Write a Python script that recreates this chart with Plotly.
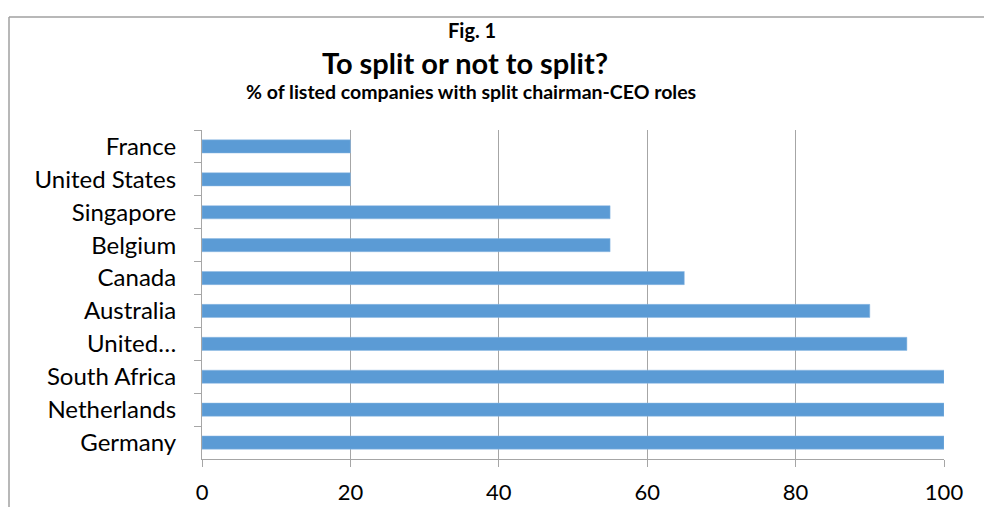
import plotly.graph_objects as go

countries = ["France", "United States", "Singapore", "Belgium", "Canada",
             "Australia", "United…", "South Africa", "Netherlands", "Germany"]
values = [20, 20, 55, 55, 65, 90, 95, 100, 100, 100]
x_ticks = [0, 20, 40, 60, 80, 100]

fig = go.Figure(go.Bar(
    x=values, y=countries, orientation="h",
    marker=dict(color="#5B9BD5", line=dict(color="#8DB8E2", width=0.5)),
    hoverinfo="x+y",
))

L, R, T, B = 202, 40, 130, 48
W, H = 984, 507
pw, ph = W - L - R, H - T - B

def px(x):
    return (x - L) / pw

def py(y):
    return (H - B - y) / ph

fig.update_layout(
    width=W, height=H,
    margin=dict(l=L, r=R, t=T, b=B),
    paper_bgcolor="white", plot_bgcolor="white",
    bargap=0.6,
    showlegend=False,
    font=dict(family="Lato, Carlito, sans-serif", color="#000000"),
    xaxis=dict(
        range=[0, 100], tickvals=x_ticks, ticktext=[str(v) for v in x_ticks],
        showgrid=True, gridcolor="#A6A6A6", gridwidth=1,
        showline=True, linecolor="#A6A6A6", linewidth=1,
        ticks="outside", ticklen=7, tickcolor="#A6A6A6",
        tickfont=dict(size=22, color="#000000"),
        ticklabelstandoff=7, zeroline=False, fixedrange=True,
        automargin=False,
    ),
    yaxis=dict(
        autorange="reversed", type="category",
        showline=True, linecolor="#A6A6A6", linewidth=1,
        ticks="outside", ticklen=7, tickcolor="#A6A6A6",
        tickson="boundaries",
        tickfont=dict(size=24, color="#000000"),
        ticklabelstandoff=20, showgrid=False, fixedrange=True,
        automargin=False,
    ),
    shapes=[
        dict(type="line", xref="paper", yref="paper",
             x0=px(9), x1=px(W + 5), y0=py(17), y1=py(17),
             line=dict(color="#A0A0A0", width=1.5)),
        dict(type="line", xref="paper", yref="paper",
             x0=px(9), x1=px(9), y0=py(17), y1=py(H + 5),
             line=dict(color="#A0A0A0", width=1.5)),
    ],
    annotations=[
        dict(text="<b>Fig. 1</b>", xref="paper", yref="paper",
             x=px(472), y=py(30), showarrow=False, xanchor="center", yanchor="middle",
             font=dict(size=20)),
        dict(text="<b>To split or not to split?</b>", xref="paper", yref="paper",
             x=px(465), y=py(63), showarrow=False, xanchor="center", yanchor="middle",
             font=dict(size=29)),
        dict(text="<b>% of listed companies with split chairman-CEO roles</b>",
             xref="paper", yref="paper",
             x=px(471), y=py(92), showarrow=False, xanchor="center", yanchor="middle",
             font=dict(size=19.5)),
    ],
)

fig.write_html("out.html")
